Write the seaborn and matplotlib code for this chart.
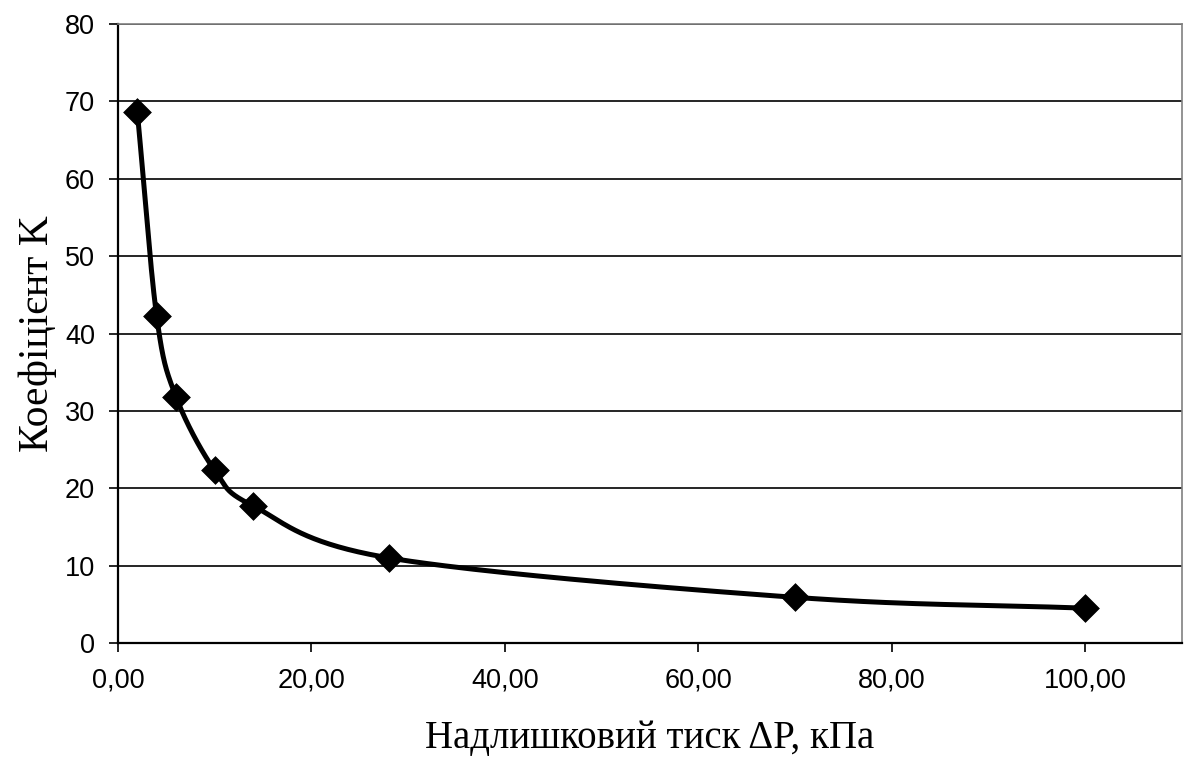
import numpy as np
import pandas as pd
import matplotlib
matplotlib.use("Agg")
import matplotlib.pyplot as plt
import seaborn as sns
from matplotlib.ticker import FuncFormatter

# Data
pressure = [2, 4, 6, 10, 14, 28, 70, 100]          # ΔP, kPa
coef_k = [68.6, 42.2, 31.8, 22.3, 17.7, 11.0, 5.9, 4.5]
x_ticks = [0, 20, 40, 60, 80, 100]
y_ticks = [0, 10, 20, 30, 40, 50, 60, 70, 80]
x_label = "Надлишковий тиск ΔP, кПа"
y_label = "Коефіцієнт K"

df = pd.DataFrame({"dp": pressure, "k": coef_k})


def smooth_curve(xs, ys, n=40):
    """Bezier (Catmull-Rom) smoothing through the points, like Excel's smoothed line."""
    P = np.column_stack([xs, ys]).astype(float)
    P = np.vstack([P[0] - (P[1] - P[0]), P, P[-1] + (P[-1] - P[-2])])
    out = []
    for i in range(1, len(P) - 2):
        p0, p1, p2, p3 = P[i - 1], P[i], P[i + 1], P[i + 2]
        c1 = p1 + (p2 - p0) / 6.0
        c2 = p2 - (p3 - p1) / 6.0
        t = np.linspace(0, 1, n, endpoint=(i == len(P) - 3))[:, None]
        seg = ((1 - t) ** 3) * p1 + 3 * ((1 - t) ** 2) * t * c1 + 3 * (1 - t) * t ** 2 * c2 + t ** 3 * p2
        out.append(seg)
    out = np.vstack(out)
    return out[:, 0], out[:, 1]


sns.set_theme(style="white")
plt.rcParams["font.family"] = ["Liberation Sans", "DejaVu Sans"]

fig = plt.figure(figsize=(11.84, 7.58), dpi=100)
ax = fig.add_axes([118 / 1184, 1 - 643 / 758, (1182 - 118) / 1184, (643 - 24) / 758])

sx, sy = smooth_curve(df["dp"].values, df["k"].values)
curve = pd.DataFrame({"dp": sx, "k": sy})
sns.lineplot(data=curve, x="dp", y="k", sort=False, color="black", lw=3.6,
             ax=ax, zorder=3, estimator=None)
sns.scatterplot(data=df, x="dp", y="k", marker="D", s=200, color="black",
                edgecolor="black", linewidth=0.5, ax=ax, zorder=4)

ax.set_xlim(0, 110)
ax.set_ylim(0, 80)
ax.set_xticks(x_ticks)
ax.set_yticks(y_ticks)
ax.xaxis.set_major_formatter(FuncFormatter(lambda v, p: f"{v:.2f}".replace(".", ",")))
ax.yaxis.set_major_formatter(FuncFormatter(lambda v, p: f"{int(v)}"))

ax.grid(axis="y", color="black", lw=1.2, zorder=1)
ax.grid(axis="x", visible=False)
ax.set_axisbelow(True)

for side in ["left", "bottom"]:
    ax.spines[side].set_color("black")
    ax.spines[side].set_linewidth(1.6)
for side in ["top", "right"]:
    ax.spines[side].set_color("#808080")
    ax.spines[side].set_linewidth(1.2)

ax.tick_params(axis="both", which="major", direction="out", length=6.5, width=1.2,
               color="black", labelsize=19.5, labelcolor="black")
ax.tick_params(axis="y", pad=10, left=True)
ax.tick_params(axis="x", pad=11, bottom=True)

serif = ["Liberation Serif", "DejaVu Serif"]
ax.set_xlabel(x_label, fontsize=28, family=serif, color="black")
ax.set_ylabel(y_label, fontsize=30, family=serif, color="black")
ax.xaxis.label.set_va("baseline")
ax.xaxis.set_label_coords(0.5, -(748 - 643) / 619)
ax.yaxis.label.set_va("baseline")
ax.yaxis.set_label_coords(-(118 - 48) / 1064, 0.5)

fig.savefig("out.png", dpi=100)
